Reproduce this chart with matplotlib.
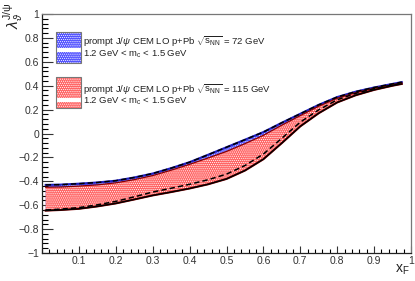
import matplotlib
matplotlib.use('Agg')
import matplotlib.pyplot as plt
from matplotlib.patches import Rectangle
from matplotlib.ticker import MultipleLocator

plt.rcParams['font.family'] = ['Liberation Sans', 'DejaVu Sans']
plt.rcParams['mathtext.fontset'] = 'custom'
plt.rcParams['mathtext.rm'] = 'Liberation Sans'
plt.rcParams['mathtext.it'] = 'Liberation Sans:italic'
plt.rcParams['mathtext.bf'] = 'Liberation Sans:bold'
plt.rcParams['hatch.linewidth'] = 0.5

# ---------------- data ----------------
xf = [0.01, 0.05, 0.1, 0.15, 0.2, 0.25, 0.3, 0.35, 0.4, 0.45, 0.5, 0.55,
      0.6, 0.65, 0.7, 0.75, 0.8, 0.85, 0.9, 0.95, 0.975]
# 72 GeV band (upper / lower edge)
up72 = [-0.430, -0.428, -0.420, -0.410, -0.395, -0.368, -0.335, -0.290, -0.240,
        -0.178, -0.115, -0.052, 0.012, 0.090, 0.165, 0.240, 0.305, 0.350, 0.385,
        0.415, 0.430]
lo72 = [-0.640, -0.633, -0.620, -0.597, -0.568, -0.530, -0.490, -0.458, -0.425,
        -0.387, -0.340, -0.268, -0.172, -0.040, 0.095, 0.198, 0.282, 0.336, 0.375,
        0.406, 0.420]
# 115 GeV band (upper / lower edge)
up115 = [-0.450, -0.448, -0.440, -0.430, -0.413, -0.386, -0.352, -0.307, -0.258,
         -0.205, -0.150, -0.085, -0.015, 0.070, 0.150, 0.228, 0.295, 0.342, 0.378,
         0.408, 0.423]
lo115 = [-0.645, -0.640, -0.630, -0.610, -0.585, -0.552, -0.518, -0.490, -0.460,
         -0.425, -0.380, -0.310, -0.215, -0.080, 0.060, 0.170, 0.260, 0.320, 0.365,
         0.400, 0.415]

xticks = [0.1, 0.2, 0.3, 0.4, 0.5, 0.6, 0.7, 0.8, 0.9, 1.0]
xticklabels = ['0.1', '0.2', '0.3', '0.4', '0.5', '0.6', '0.7', '0.8', '0.9', '1']
yticks = [-1, -0.8, -0.6, -0.4, -0.2, 0, 0.2, 0.4, 0.6, 0.8, 1]
yticklabels = ['\u22121', '\u22120.8', '\u22120.6', '\u22120.4', '\u22120.2', '0',
               '0.2', '0.4', '0.6', '0.8', '1']

leg1_l1 = r'prompt J/$\psi$ CEM LO p+Pb $\sqrt{\mathrm{s_{NN}}}$ = 72 GeV'
leg2_l1 = r'prompt J/$\psi$ CEM LO p+Pb $\sqrt{\mathrm{s_{NN}}}$ = 115 GeV'
leg_l2 = r'1.2 GeV < $\mathrm{m_c}$ < 1.5 GeV'

blue = '#5252ff'
red = '#ff6464'

# ---------------- figure ----------------
W, H = 415, 281
fig = plt.figure(figsize=(W / 100, H / 100), dpi=100)
fig.patch.set_facecolor('white')
ax = fig.add_axes([42 / W, 1 - 253 / H, (411 - 42) / W, (253 - 14) / H])

ax.fill_between(xf, lo72, up72, facecolor=blue, edgecolor='white', hatch='........',
                linewidth=0, zorder=1)
ax.fill_between(xf, lo115, up115, facecolor=red, edgecolor='white', hatch='........',
                linewidth=0, zorder=2)

ax.plot(xf, up72, color='#2020c0', lw=1.5, zorder=3)
ax.plot(xf, up72, color='black', lw=1.1, dashes=(3.5, 2), zorder=4)
ax.plot(xf, up115, color='#8b0000', lw=0.9, zorder=3)
ax.plot(xf, lo72, color='black', lw=1.1, dashes=(3.5, 2), zorder=4)
ax.plot(xf, lo115, color='#8b0000', lw=1.5, zorder=3)
ax.plot(xf, lo115, color='black', lw=1.0, zorder=4)

ax.set_xlim(0, 1)
ax.set_ylim(-1, 1)
ax.set_xticks(xticks)
ax.set_xticklabels(xticklabels)
ax.set_yticks(yticks)
ax.set_yticklabels(yticklabels)
ax.xaxis.set_minor_locator(MultipleLocator(0.02))
ax.yaxis.set_minor_locator(MultipleLocator(0.04))
ax.tick_params(axis='x', which='major', direction='in', length=5.2, width=0.8,
               pad=2, labelsize=7.5, colors='#333333', top=False)
ax.tick_params(axis='x', which='minor', direction='in', length=2.6, width=0.8,
               top=False)
ax.tick_params(axis='y', which='major', direction='in', length=8, width=0.8,
               pad=2, labelsize=7.5, colors='#333333', right=False)
ax.tick_params(axis='y', which='minor', direction='in', length=4, width=0.8,
               right=False)
for s in ['left', 'bottom']:
    ax.spines[s].set_color('#222222')
    ax.spines[s].set_linewidth(0.9)
for s in ['top', 'right']:
    ax.spines[s].set_color('#777777')
    ax.spines[s].set_linewidth(0.9)

# axis titles
fig.text(14 / W, 1 - 2 / H, r'$\lambda_{\vartheta}^{\mathrm{J/\psi}}$', rotation=90,
         ha='center', va='top', fontsize=11, color='#222222')
fig.text(402 / W, 1 - 270 / H, r'$\mathrm{x_F}$', ha='center', va='center',
         fontsize=10, color='#222222')


# legend (pixel coords from top-left)
def fx(px):
    return px / W


def fy(py):
    return 1 - py / H


def legend_box(y0, y1, s0, s1, color):
    r = Rectangle((fx(55.5), fy(y1)), fx(80.7) - fx(55.5), fy(y0) - fy(y1),
                  transform=fig.transFigure, facecolor=color, edgecolor='white',
                  hatch='........', linewidth=0)
    fig.add_artist(r)
    st = Rectangle((fx(55.5), fy(s1)), fx(80.7) - fx(55.5), fy(s0) - fy(s1),
                   transform=fig.transFigure, facecolor='white', linewidth=0)
    fig.add_artist(st)
    b = Rectangle((fx(55.5), fy(y1)), fx(80.7) - fx(55.5), fy(y0) - fy(y1),
                  transform=fig.transFigure, facecolor='none', edgecolor='#777777',
                  linewidth=0.8)
    fig.add_artist(b)


legend_box(31.7, 62.7, 47.7, 51.7, blue)
legend_box(76.7, 108.3, 98.0, 102.0, red)

fs = 6.8
fig.text(fx(83), fy(45), leg1_l1, ha='left', va='baseline', fontsize=fs, color='#222222')
fig.text(fx(83), fy(56.7), leg_l2, ha='left', va='baseline', fontsize=fs, color='#222222')
fig.text(fx(83), fy(92.7), leg2_l1, ha='left', va='baseline', fontsize=fs, color='#222222')
fig.text(fx(83), fy(103.3), leg_l2, ha='left', va='baseline', fontsize=fs, color='#222222')

fig.savefig('out.png', dpi=100)
